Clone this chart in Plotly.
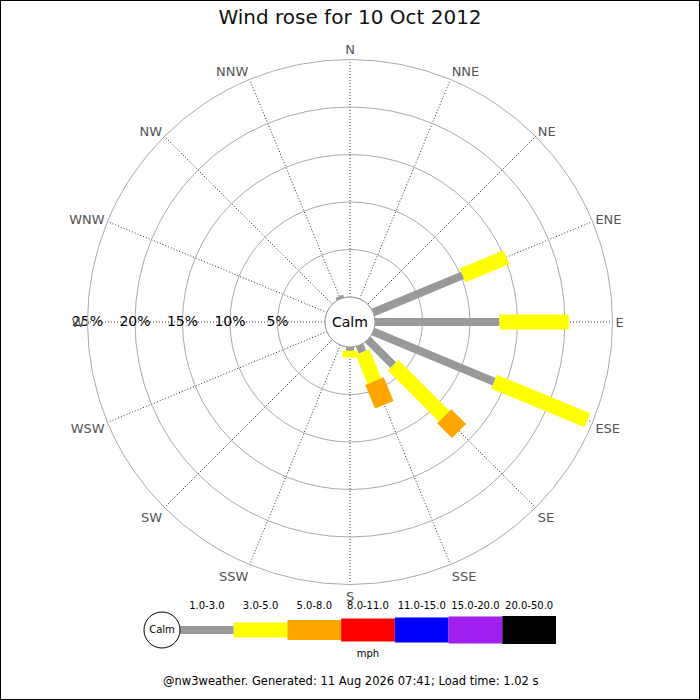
import plotly.graph_objects as go

# dados
directions = ["N", "NNE", "NE", "ENE", "E", "ESE", "SE", "SSE",
              "S", "SSW", "SW", "WSW", "W", "WNW", "NW", "NNW"]
speed_bins = ["1.0-3.0", "3.0-5.0", "5.0-8.0", "8.0-11.0",
              "11.0-15.0", "15.0-20.0", "20.0-50.0"]
bin_colors = ["#999999", "#ffff00", "#ffa500", "#ff0000",
              "#0000ff", "#a020f0", "#000000"]
bin_widths = [8, 15, 20, 23, 25, 27, 28]

# percentagem por direcao, uma lista por classe de velocidade
pct_1_3 = [0, 0, 0, 10.2, 13.1, 13.8, 3.8, 0.8, 0.4, 0, 0, 0, 0, 0, 0, 0.3]
pct_3_5 = [0, 0, 0, 5.0, 7.3, 10.6, 7.6, 3.3, 0.7, 0, 0, 0, 0, 0, 0, 0]
pct_5_8 = [0, 0, 0, 0, 0, 0, 2.2, 2.7, 0, 0, 0, 0, 0, 0, 0, 0]
series = [pct_1_3, pct_3_5, pct_5_8]

ring_vals = [5, 10, 15, 20, 25]
ring_text = ["5%", "10%", "15%", "20%", "25%"]

title = "Wind rose for 10 Oct 2012"
footer = "@nw3weather. Generated: 11 Aug 2026 07:41; Load time: 1.02 s"
FONT = "DejaVu Sans"

angles = [i * 22.5 for i in range(len(directions))]

fig = go.Figure()

# barras da rosa: segmentos de linha com largura fixa em pixels
base = [0.0] * len(directions)
for k, vals in enumerate(series):
    rr, tt = [], []
    for i, v in enumerate(vals):
        if v > 0:
            rr += [base[i], base[i] + v, None]
            tt += [angles[i], angles[i], None]
            base[i] += v
    fig.add_trace(go.Scatterpolar(
        r=rr, theta=tt, mode="lines", connectgaps=False,
        line=dict(color=bin_colors[k], width=bin_widths[k]),
        hoverinfo="skip", showlegend=False))

# rotulos dos aneis ao longo do eixo W
fig.add_trace(go.Scatterpolar(
    r=ring_vals, theta=[270] * len(ring_vals), mode="text", text=ring_text,
    textposition="middle center",
    textfont=dict(family=FONT, size=14, color="black"),
    hoverinfo="skip", showlegend=False))

# legenda desenhada num eixo cartesiano
u = 376 / 7
for k, name in enumerate(speed_bins):
    fig.add_trace(go.Bar(
        x=[1], y=[0], base=[k], width=[bin_widths[k]], orientation="h",
        marker=dict(color=bin_colors[k], line=dict(width=0)),
        xaxis="x", yaxis="y", hoverinfo="skip", showlegend=False))
fig.add_trace(go.Scatter(
    x=[k + 0.5 for k in range(len(speed_bins))], y=[24] * len(speed_bins),
    mode="text", text=speed_bins,
    textfont=dict(family=FONT, size=10, color="black"),
    hoverinfo="skip", showlegend=False))
fig.add_trace(go.Scatter(
    x=[len(speed_bins) / 2], y=[-24], mode="text", text=["mph"],
    textfont=dict(family=FONT, size=10, color="black"),
    hoverinfo="skip", showlegend=False))
fig.add_trace(go.Scatter(
    x=[-18 / u], y=[0], mode="markers+text", text=["Calm"],
    textposition="middle center",
    marker=dict(size=36, color="white", line=dict(color="black", width=1)),
    textfont=dict(family=FONT, size=10, color="black"),
    hoverinfo="skip", showlegend=False))

fig.update_layout(
    width=700, height=700,
    margin=dict(l=0, r=0, t=0, b=0),
    paper_bgcolor="white", plot_bgcolor="white",
    barmode="overlay",
    font=dict(family=FONT),
    title=dict(text=title, x=0.5, xanchor="center", y=1 - 17 / 700,
               yanchor="middle", font=dict(family=FONT, size=20, color="#111")),
    polar=dict(
        domain=dict(x=[87.5 / 700, 612.5 / 700], y=[1 - 584.5 / 700, 1 - 59.5 / 700]),
        bgcolor="white",
        hole=25 / 262.5,
        radialaxis=dict(range=[0, 25], tickvals=ring_vals[:-1], showticklabels=False,
                        ticks="", showline=False, gridcolor="#aaaaaa", gridwidth=1),
        angularaxis=dict(rotation=90, direction="clockwise", tickmode="array",
                         tickvals=angles, ticktext=directions, ticks="",
                         showline=True, linecolor="#aaaaaa", linewidth=1,
                         gridcolor="#333333", gridwidth=1, griddash="1px,2px",
                         tickfont=dict(family=FONT, size=13, color="#555555")),
    ),
    xaxis=dict(domain=[0, 1], range=[-180 / u, 520 / u], visible=False, fixedrange=True),
    yaxis=dict(domain=[1 - 664 / 700, 1 - 596 / 700], range=[-34, 34],
               visible=False, fixedrange=True),
    shapes=[
        dict(type="circle", xref="paper", yref="paper",
             x0=325 / 700, x1=375 / 700, y0=1 - 347 / 700, y1=1 - 297 / 700,
             line=dict(color="#999999", width=1), fillcolor="white", layer="above"),
        dict(type="rect", xref="paper", yref="paper", x0=0, x1=1, y0=0, y1=1,
             line=dict(color="black", width=2)),
    ],
    annotations=[
        dict(text="Calm", x=0.5, y=1 - 322 / 700, xref="paper", yref="paper",
             showarrow=False, font=dict(family=FONT, size=14, color="black")),
        dict(text=footer, x=0.5, y=1 - 690 / 700, xref="paper", yref="paper",
             showarrow=False, font=dict(family=FONT, size=11.5, color="black")),
    ],
)

# tira a margem padrao do body para a figura ocupar a janela toda
fig.write_html("out.html", config={"displayModeBar": False},
               post_script="document.body.style.margin='0';")
